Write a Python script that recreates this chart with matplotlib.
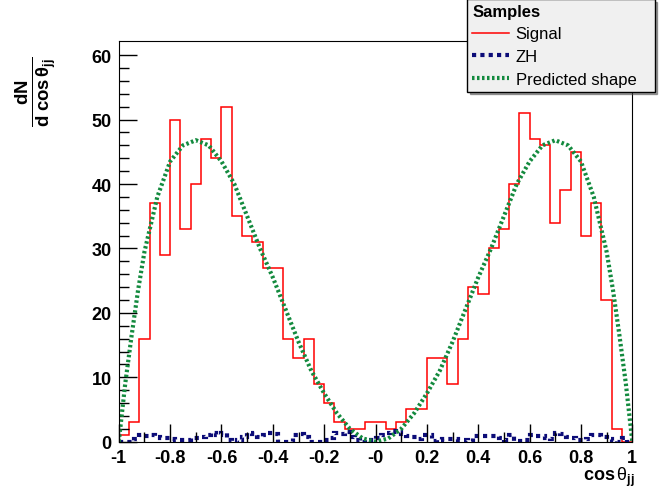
import numpy as np
import matplotlib
matplotlib.use("Agg")
from matplotlib import pyplot as plt
from matplotlib.lines import Line2D

plt.rcParams['font.family'] = ['Liberation Sans', 'DejaVu Sans']
plt.rcParams['mathtext.fontset'] = 'custom'
plt.rcParams['mathtext.rm'] = 'Liberation Sans'
plt.rcParams['mathtext.bf'] = 'Liberation Sans:bold'
plt.rcParams['mathtext.it'] = 'Liberation Sans:italic'

# signal histogram: 50 bins from -1 to 1
signal = [1, 3, 16, 37, 29, 50, 33, 40, 47, 44,
          52, 35, 32, 31, 27, 27, 16, 13, 16, 9,
          6, 3, 2, 2, 3, 3, 2, 3, 5, 5,
          13, 13, 9, 16, 24, 23, 30, 33, 40, 51,
          47, 46, 34, 39, 45, 32, 37, 22, 2, 0]

# ZH histogram: 100 bins from -1 to 1
zh = [0, 0, 0, 0.4, 1.0, 0.9, 1.0, 0.7, 0.5, 0.6,
      0.4, 0.3, 0.3, 0.3, 0.5, 0.5, 0.8, 1.0, 1.3, 1.0,
      1.3, 0.3, 0, 0.2, 0.7, 1.3, 1.2, 0.8, 1.0, 1.3,
      1.2, 0, 0, 0, 1.0, 1.2, 0.8, 0, 0, 0,
      0.2, 0.5, 1.3, 1.2, 1.5, 0.7, 0.3, 0, 0.3, 0.3,
      0.5, 1.0, 1.4, 1.7, 1.5, 1.2, 0.9, 0.7, 0.4, 1.0,
      1.0, 0.1, 0.2, 0.4, 0.4, 0.4, 0.3, 0.3, 0.1, 0.9,
      0.9, 0.9, 0.9, 0.9, 0.5, 0.3, 1.0, 0.1, 0.1, 0.2,
      1.0, 0.9, 0.9, 0.6, 0.4, 1.4, 1.2, 0.7, 0.6, 0.3,
      0.2, 0.4, 1.0, 1.1, 0.7, 0.4, 0.1, 0, 0.5, 0]

# predicted shape
pred_x = [-1, -0.975, -0.95, -0.925, -0.9, -0.85, -0.8, -0.75, -0.7, -0.65, -0.6,
          -0.55, -0.5, -0.45, -0.4, -0.35, -0.3, -0.25, -0.2, -0.15, -0.1, -0.05, 0,
          0.05, 0.1, 0.15, 0.2, 0.25, 0.3, 0.35, 0.4, 0.45, 0.5, 0.55, 0.6,
          0.65, 0.7, 0.75, 0.8, 0.85, 0.9, 0.925, 0.95, 0.975, 1]
pred_y = [0, 9, 16.5, 23.5, 29.5, 38, 43.5, 46, 46.8, 46, 43.5,
          40, 35, 30, 25.5, 20.5, 15.5, 11, 7.5, 4.4, 2.0, 0.5, 0,
          0.5, 2.0, 4.4, 7.5, 11, 15.5, 20.5, 25.5, 30, 35, 40, 43.5,
          46, 46.8, 46, 43.5, 38, 29.5, 23.5, 16.5, 9, 0]

sig_edges = np.linspace(-1, 1, len(signal) + 1)
zh_edges = np.linspace(-1, 1, len(zh) + 1)

fig = plt.figure(figsize=(6.6, 4.89), dpi=100)
ax = fig.add_axes([0.180, 0.0947, 0.778, 0.8194])

red = '#ff0000'
navy = '#0c0c78'
green = '#138a3e'

ax.stairs(signal, sig_edges, color=red, lw=1.1)
ax.stairs(zh, zh_edges, color=navy, lw=3, linestyle=(0, (1, 1)))
ax.plot(pred_x, pred_y, color=green, lw=3, linestyle=(0, (0.6, 0.6)))

ax.set_xlim(-1, 1)
ax.set_ylim(0, 62.2)

xt = [-1, -0.8, -0.6, -0.4, -0.2, 0, 0.2, 0.4, 0.6, 0.8, 1]
xl = ['-1', '-0.8', '-0.6', '-0.4', '-0.2', '-0', '0.2', '0.4', '0.6', '0.8', '1']
ax.set_xticks(xt)
ax.set_xticklabels(xl)
ax.set_xticks(np.arange(-1, 1.01, 0.1), minor=True)
ax.set_yticks(range(0, 61, 10))
ax.set_yticks(range(0, 62, 2), minor=True)
ax.tick_params(which='both', direction='in', top=False, right=False,
               labelsize=13, width=1)
ax.tick_params(which='major', length=13, pad=5)
ax.tick_params(which='minor', length=7)
for lab in ax.get_xticklabels() + ax.get_yticklabels():
    lab.set_fontweight('bold')

fig.text(0.962, 0.0, r'$\mathbf{cos}\,\mathrm{\theta}_{\mathbf{jj}}$', ha='right',
         va='bottom', fontsize=13)
fig.text(0.055, 0.885, r'$\mathbf{\frac{dN}{d\ cos\,\theta_{jj}}}$', rotation=90,
         ha='center', va='top', fontsize=19)

handles = [Line2D([], [], color=red, lw=1.1),
           Line2D([], [], color=navy, lw=3, linestyle=(0, (1, 1))),
           Line2D([], [], color=green, lw=3, linestyle=(0, (0.6, 0.6)))]
leg = fig.legend(handles, ['Signal', 'ZH', 'Predicted shape'],
                 title='Samples', loc='upper left',
                 bbox_to_anchor=(0.708, 0.81, 0.284, 0.19), mode='expand',
                 fontsize=12, title_fontproperties={'weight': 'bold', 'size': 12},
                 frameon=True, fancybox=False, shadow=True, facecolor='#f0f0f0',
                 edgecolor='black', framealpha=1, borderaxespad=0,
                 handlelength=2.2, handletextpad=0.4, labelspacing=0.45,
                 borderpad=0.3)
leg._legend_box.align = 'left'
leg.get_frame().set_linewidth(1)

fig.savefig('out.png', dpi=100)
